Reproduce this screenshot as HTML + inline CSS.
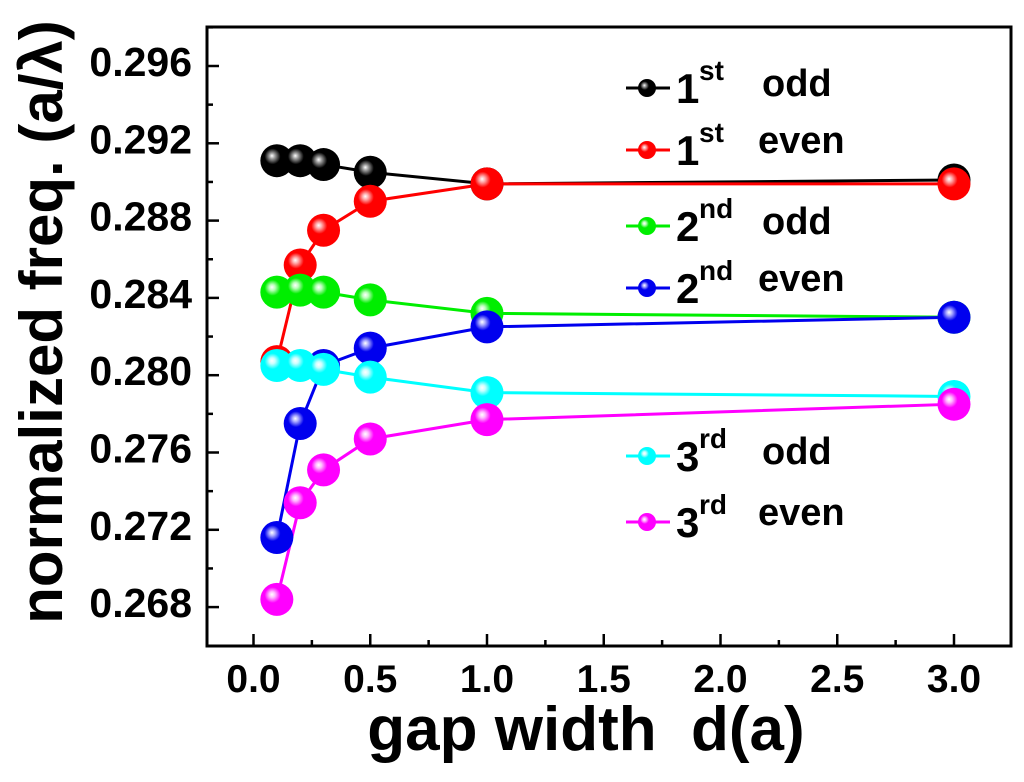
<!DOCTYPE html>
<html><head><meta charset="utf-8"><style>
body{margin:0;background:#fff;}
svg text{font-family:"Liberation Sans",Arial,sans-serif;font-weight:bold;fill:#000;}
</style></head><body>
<svg id="chart" width="1024" height="777" viewBox="0 0 1024 777" xmlns="http://www.w3.org/2000/svg">
<defs id="defs"></defs>
<g id="axes"></g>
<g id="series"></g>
<g id="legend"></g>
<text transform="translate(62,322) rotate(-90)" text-anchor="middle" font-size="60">normalized freq. (a/λ)</text>
<text x="586" y="750" text-anchor="middle" font-size="62" xml:space="preserve">gap width  d(a)</text>
</svg>
<script>
const xValues = [0.1, 0.2, 0.3, 0.5, 1.0, 3.0];
const oddFirst = [0.2911, 0.2911, 0.2909, 0.2905, 0.2899, 0.2901];
const evenFirst = [0.2807, 0.2857, 0.2875, 0.2890, 0.2899, 0.2899];
const oddSecond = [0.2843, 0.2844, 0.2843, 0.2839, 0.2832, 0.2830];
const evenSecond = [0.2716, 0.2775, 0.2805, 0.2814, 0.2825, 0.2830];
const oddThird = [0.2805, 0.2805, 0.2803, 0.2799, 0.2791, 0.2789];
const evenThird = [0.2684, 0.2734, 0.2751, 0.2767, 0.2777, 0.2785];
const xTicks = [0.0, 0.5, 1.0, 1.5, 2.0, 2.5, 3.0];
const yTicks = [0.268, 0.272, 0.276, 0.280, 0.284, 0.288, 0.292, 0.296];
const seriesNames = ["1st odd","1st even","2nd odd","2nd even","3rd odd","3rd even"];

const NS="http://www.w3.org/2000/svg";
const L=207,R=1011,T=27,B=646;
function xs(v){return 253.5+v*233.5;}
function ys(v){return 66+(0.296-v)/0.004*77.3;}
function mk(tag,attrs,parent){const e=document.createElementNS(NS,tag);for(const k in attrs)e.setAttribute(k,attrs[k]);parent.appendChild(e);return e;}

const series=[
 {vals:oddFirst,color:"#000000",hi:"#999",leg:88,sup:"st",n:"1",w:"odd"},
 {vals:evenFirst,color:"#ff0000",hi:"#ffaaaa",leg:150,sup:"st",n:"1",w:"even"},
 {vals:oddSecond,color:"#00ee00",hi:"#bbffbb",leg:226,sup:"nd",n:"2",w:"odd"},
 {vals:evenSecond,color:"#0000ee",hi:"#aaaaff",leg:288,sup:"nd",n:"2",w:"even"},
 {vals:oddThird,color:"#00ffff",hi:"#ccffff",leg:456,sup:"rd",n:"3",w:"odd"},
 {vals:evenThird,color:"#ff00ff",hi:"#ffbbff",leg:522,sup:"rd",n:"3",w:"even"}
];
const defs=document.getElementById('defs');
series.forEach((s,i)=>{
 const g=mk('radialGradient',{id:'g'+i,cx:'0.4',cy:'0.4',r:'0.6',fx:'0.35',fy:'0.35'},defs);
 mk('stop',{offset:'0',['stop-color']:'#fff'},g);
 mk('stop',{offset:'0.15',['stop-color']:s.hi},g);
 mk('stop',{offset:'0.4',['stop-color']:s.color},g);
 mk('stop',{offset:'1',['stop-color']:s.color},g);
});

const ax=document.getElementById('axes');
const frame=mk('rect',{x:L,y:T,width:R-L,height:B-T,fill:'none',stroke:'#000','stroke-width':3},ax);


xTicks.forEach((v,i)=>{
 const x=xs(v);
 const t=mk('line',{x1:x,x2:x,y1:B,y2:B-12,stroke:'#000','stroke-width':2.5},ax);
 
 
 if(i<xTicks.length-1){const m=mk('line',{x1:xs(v+0.25),x2:xs(v+0.25),y1:B,y2:B-6,stroke:'#000','stroke-width':2.5},ax);
  
  }
 const lb=mk('text',{x:x,y:692,'text-anchor':'middle','font-size':39},ax);
 lb.textContent=v.toFixed(1);
 
 
});
yTicks.forEach((v,i)=>{
 const y=ys(v);
 const t=mk('line',{x1:L,x2:L+12,y1:y,y2:y,stroke:'#000','stroke-width':2.5},ax);
 
 
 const m=mk('line',{x1:L,x2:L+6,y1:ys(v+0.002),y2:ys(v+0.002),stroke:'#000','stroke-width':2.5},ax);
 
 
 const lb=mk('text',{x:192,y:y+10,'text-anchor':'end','font-size':41},ax);
 lb.textContent=v.toFixed(3);
 
 
});

const sg=document.getElementById('series');
series.forEach((s,i)=>{
 const g=mk('g',{},sg);
 
 
 const pts=s.vals.map((v,j)=>xs(xValues[j])+','+ys(v)).join(' ');
 const pl=mk('polyline',{points:pts,fill:'none',stroke:s.color,'stroke-width':3},g);
 
 
});
series.forEach((s,i)=>{
 s.vals.forEach((v,j)=>{
  const c=mk('circle',{cx:xs(xValues[j]),cy:ys(v),r:16.5,fill:`url(#g${i})`},sg);
  
  
 });
});

const lg=document.getElementById('legend');
series.forEach((s,i)=>{
 const g=mk('g',{},lg);
 
 
 const y=s.leg;
 mk('line',{x1:626,x2:670,y1:y,y2:y,stroke:s.color,'stroke-width':3},g);
 mk('circle',{cx:647,cy:y,r:9,fill:`url(#g${i})`},g);
 const t=mk('text',{x:676,y:y+15,'font-size':42},g);
 t.textContent=s.n;
 const sp=mk('text',{x:699,y:y-8,'font-size':28},g);
 sp.textContent=s.sup;
 const w=mk('text',{x:s.w==='odd'?762:758,y:y+(s.w==='odd'?8:3),'font-size':38},g);
 w.textContent=s.w;
});
</script>
</body></html>
